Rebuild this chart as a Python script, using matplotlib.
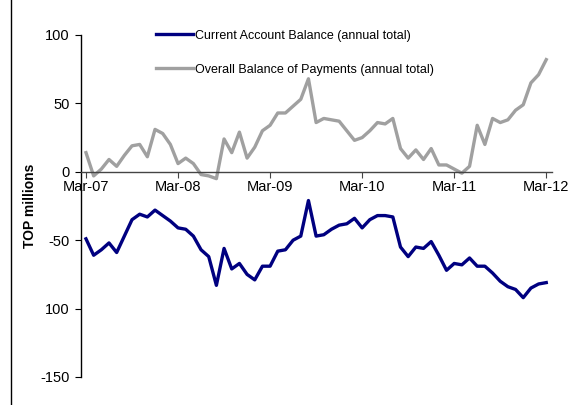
import numpy as np
import matplotlib.pyplot as plt
from matplotlib.lines import Line2D

plt.rcParams['font.family'] = ['Liberation Sans', 'DejaVu Sans']

# monthly data, Mar-07 .. Mar-12 (TOP millions)
current_account = [-49, -61, -57, -52, -59, -47, -35, -31, -33, -28, -32, -36,
                   -41, -42, -47, -57, -62, -83, -56, -71, -67, -75, -79, -69,
                   -69, -58, -57, -50, -47, -21, -47, -46, -42, -39, -38, -34,
                   -41, -35, -32, -32, -33, -55, -62, -55, -56, -51, -61, -72,
                   -67, -68, -63, -69, -69, -74, -80, -84, -86, -92, -85, -82,
                   -81]
overall_bop = [14, -3, 2, 9, 4, 12, 19, 20, 11, 31, 28, 20,
               6, 10, 6, -2, -3, -5, 24, 14, 29, 10, 18, 30,
               34, 43, 43, 48, 53, 68, 36, 39, 38, 37, 30, 23,
               25, 30, 36, 35, 39, 17, 10, 16, 9, 17, 5, 5,
               2, -1, 4, 34, 20, 39, 36, 38, 45, 49, 65, 71,
               82]
tick_pos = [0, 12, 24, 36, 48, 60]
tick_labels = ['Mar-07', 'Mar-08', 'Mar-09', 'Mar-10', 'Mar-11', 'Mar-12']
y_ticks = [-150, -100, -50, 0, 50, 100]
y_labels = ['-150', '100', '-50', '0', '50', '100']

fig = plt.figure(figsize=(5.88, 4.05), dpi=100)
ax = fig.add_axes([81/588, 28/405, 471/588, 342/405])

x = np.arange(len(current_account))
ax.plot(x, current_account, color='#000080', lw=2.4,
        label='Current Account Balance (annual total)')
ax.plot(x, overall_bop, color='#A0A0A0', lw=2.4,
        label='Overall Balance of Payments (annual total)')

ax.set_xlim(-0.65, 60.75)
ax.set_ylim(-150, 100)
ax.spines['top'].set_visible(False)
ax.spines['right'].set_visible(False)
ax.spines['bottom'].set_position(('data', 0))
ax.spines['left'].set_linewidth(1.0)
ax.spines['bottom'].set_linewidth(1.0)
ax.spines['bottom'].set_color('#444444')

ax.set_xticks(tick_pos)
ax.set_xticklabels(tick_labels, fontsize=10.5)
ax.set_yticks(y_ticks)
ax.set_yticklabels(y_labels, fontsize=10.5)
ax.tick_params(axis='x', direction='out', length=4, pad=2, color='#444444')
ax.tick_params(axis='y', direction='out', length=4, pad=4)
ax.set_ylabel('TOP millions', fontsize=10, fontweight='bold')
ax.yaxis.set_label_coords(-0.093, 0.5)

ax.legend(loc='upper left', bbox_to_anchor=(0.135, 1.048), frameon=False,
          fontsize=9, handlelength=3.0, handletextpad=0.12, labelspacing=1.75)

# left border of the chart area
fig.add_artist(Line2D([11/588, 11/588], [0, 1], color='black', lw=1.0))

plt.savefig('out.png', dpi=100)
